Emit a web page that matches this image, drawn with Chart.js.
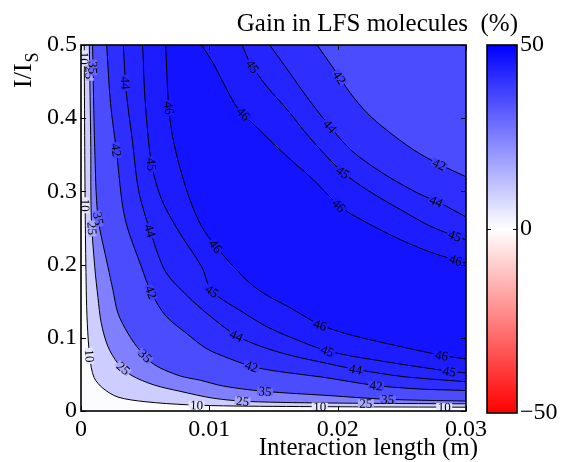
<!DOCTYPE html>
<html>
<head>
<meta charset="utf-8">
<script src="https://cdn.jsdelivr.net/npm/chart.js@4.4.1/dist/chart.umd.min.js"></script>
<style>
  body { margin: 0; background: #fff; }
  #wrap { position: relative; width: 563px; height: 462px; }
  #main { position: absolute; left: 0; top: 0; }
  #bar { position: absolute; left: 470px; top: 0; }
</style>
</head>
<body>
<div id="wrap">
  <canvas id="main" width="563" height="462"></canvas>
  <canvas id="bar" width="93" height="462"></canvas>
</div>
<script>
// contour lines, [interaction length (m), I/Is]
const c10 = [[0.00025,0.5],[0.00029,0.36],[0.00033,0.265],[0.00041,0.165],[0.00049,0.12],[0.00068,0.074],[0.00101,0.046],[0.00171,0.031],[0.00288,0.019],[0.005,0.0127],[0.0083,0.0085],[0.012,0.0068],[0.02,0.0058],[0.03,0.0052]];
const c25 = [[0.00065,0.5],[0.00076,0.36],[0.0008,0.265],[0.00107,0.197],[0.00132,0.155],[0.00158,0.12],[0.0021,0.088],[0.00288,0.065],[0.0039,0.049],[0.0057,0.0355],[0.0077,0.027],[0.0103,0.0175],[0.013,0.013],[0.02,0.0108],[0.03,0.0098]];
const c35 = [[0.0009,0.5],[0.00107,0.36],[0.00132,0.265],[0.0021,0.197],[0.00249,0.165],[0.00288,0.1335],[0.00366,0.106],[0.00457,0.083],[0.00574,0.063],[0.0077,0.048],[0.0093,0.042],[0.0111,0.034],[0.0142,0.027],[0.0194,0.021],[0.0238,0.016],[0.03,0.0135]];
const c42a = [[0.002,0.5],[0.0023,0.42],[0.00275,0.357],[0.0034,0.265],[0.0047,0.197],[0.0055,0.161],[0.0066,0.13],[0.0083,0.105],[0.0098,0.085],[0.0115,0.072],[0.0133,0.061],[0.015,0.055],[0.0189,0.046],[0.0229,0.035],[0.0264,0.03],[0.03,0.028]];
const c44a = [[0.0033,0.5],[0.0035,0.44],[0.004,0.37],[0.0045,0.3],[0.0055,0.24],[0.0066,0.19],[0.0083,0.157],[0.0099,0.132],[0.0121,0.103],[0.0139,0.089],[0.0161,0.077],[0.0189,0.066],[0.0214,0.057],[0.0251,0.047],[0.03,0.04]];
const c45a = [[0.0048,0.5],[0.005,0.423],[0.0055,0.337],[0.0063,0.288],[0.0077,0.243],[0.0094,0.197],[0.0102,0.164],[0.0127,0.134],[0.0145,0.115],[0.0163,0.101],[0.0192,0.082],[0.0235,0.068],[0.0288,0.054],[0.03,0.052]];
const c46a = [[0.0066,0.5],[0.0068,0.423],[0.0071,0.378],[0.0077,0.333],[0.0085,0.288],[0.0094,0.252],[0.0105,0.225],[0.0119,0.197],[0.0132,0.174],[0.0145,0.158],[0.0163,0.141],[0.0186,0.118],[0.021,0.104],[0.0249,0.088],[0.0281,0.076],[0.03,0.071]];
const c46b = [[0.0094,0.5],[0.0103,0.475],[0.0114,0.438],[0.0122,0.414],[0.0139,0.384],[0.0161,0.347],[0.0181,0.316],[0.0202,0.279],[0.0223,0.257],[0.0249,0.234],[0.0274,0.216],[0.03,0.202]];
const c45b = [[0.01255,0.5],[0.0132,0.475],[0.0145,0.443],[0.0161,0.411],[0.0178,0.374],[0.0202,0.329],[0.0223,0.302],[0.0249,0.275],[0.0274,0.251],[0.03,0.234]];
const c44b = [[0.0147,0.5],[0.0161,0.466],[0.0176,0.429],[0.0192,0.393],[0.021,0.357],[0.0235,0.325],[0.0262,0.298],[0.028,0.284],[0.03,0.265]];
const c42b = [[0.0184,0.5],[0.0196,0.47],[0.021,0.434],[0.0223,0.407],[0.0238,0.384],[0.0259,0.357],[0.0277,0.339],[0.03,0.32]];

// drawing order: each curve fills the side beyond it
const contours = [c10, c25, c35, c42a, c44a, c45a, c46a, c46b, c45b, c44b, c42b];
const contourLevels = [10, 25, 35, 42, 44, 45, 46, 46, 45, 44, 42];
const bandBeyond = [1, 2, 3, 4, 5, 6, 7, 6, 5, 4, 3];

// inline labels [level, x, y]
const labels = [
  [10,0.0002,0.482],[25,0.0004,0.462],[35,0.00084,0.469],[44,0.00336,0.448],[46,0.0069,0.414],
  [42,0.00266,0.356],[45,0.0055,0.337],[10,0.00028,0.281],[35,0.0014,0.263],[25,0.00064,0.249],
  [44,0.00554,0.247],[46,0.0105,0.225],[42,0.00526,0.161],[45,0.0102,0.1635],[46,0.0186,0.116],
  [44,0.0121,0.1025],[10,0.00076,0.0754],[35,0.005,0.0754],[25,0.0032,0.0565],[42,0.0133,0.0619],
  [45,0.0192,0.082],[44,0.0214,0.0574],[46,0.0281,0.0754],[45,0.0287,0.0538],[42,0.023,0.0348],
  [35,0.01435,0.028],[25,0.0126,0.0145],[10,0.009,0.0068],[10,0.0186,0.0054],[25,0.0222,0.0113],
  [35,0.0239,0.0167],[10,0.0283,0.0054],
  [45,0.0134,0.471],[42,0.0201,0.455],[46,0.0126,0.405],[44,0.0194,0.389],[42,0.0279,0.3365],
  [45,0.0204,0.326],[46,0.02,0.279],[44,0.0276,0.283],[45,0.0291,0.238],[46,0.0291,0.201]
];

const xTicks = [0, 0.01, 0.02, 0.03];
const yTicks = [0, 0.1, 0.2, 0.3, 0.4, 0.5];
const barTicks = [-50, 0, 50];

// band colours: <10, 10-25, 25-35, 35-42, 42-44, 44-45, 45-46, >46
const bandColors = [[252,252,255],[205,205,255],[128,128,255],[76,76,255],[46,46,255],[36,36,255],[28,28,255],[19,19,255]];
const rgb = c => `rgb(${c[0]},${c[1]},${c[2]})`;
const serif = "'Liberation Serif', 'DejaVu Serif', serif";

const datasets = contours.map((c, i) => ({
  data: c.map(p => ({x: p[0], y: p[1]})),
  showLine: true,
  pointRadius: 0,
  borderColor: '#000',
  borderWidth: 1,
  tension: 0.3,
  fill: 'end',
  backgroundColor: rgb(bandColors[bandBeyond[i]]),
  order: contours.length - i
}));

const decor = {
  id: 'decor',
  beforeDraw(chart) {
    const {ctx, chartArea: a} = chart;
    ctx.save();
    ctx.fillStyle = rgb(bandColors[0]);
    ctx.fillRect(a.left, a.top, a.right - a.left, a.bottom - a.top);
    ctx.restore();
  },
  afterDatasetsDraw(chart) {
    const {ctx, chartArea: a} = chart;
    const xs = chart.scales.x, ys = chart.scales.y;
    ctx.save();
    ctx.beginPath();
    ctx.rect(a.left, a.top, a.right - a.left, a.bottom - a.top);
    ctx.clip();
    ctx.font = '13px ' + serif;
    ctx.textAlign = 'center';
    ctx.textBaseline = 'middle';
    labels.forEach(([lvl, x, y]) => {
      const px = xs.getPixelForValue(x), py = ys.getPixelForValue(y);
      // snap to nearest segment of a contour with that level
      let best = null;
      contours.forEach((c, ci) => {
        if (contourLevels[ci] !== lvl) return;
        for (let k = 0; k < c.length - 1; k++) {
          const x1 = xs.getPixelForValue(c[k][0]), y1 = ys.getPixelForValue(c[k][1]);
          const x2 = xs.getPixelForValue(c[k+1][0]), y2 = ys.getPixelForValue(c[k+1][1]);
          const dx = x2 - x1, dy = y2 - y1;
          let t = ((px - x1) * dx + (py - y1) * dy) / (dx * dx + dy * dy);
          t = Math.max(0, Math.min(1, t));
          const qx = x1 + t * dx, qy = y1 + t * dy;
          const d = (qx - px) ** 2 + (qy - py) ** 2;
          if (!best || d < best.d) best = {d, qx, qy, ang: Math.atan2(dy, dx)};
        }
      });
      let ang = best.ang;
      if (ang > Math.PI / 2) ang -= Math.PI;
      if (ang < -Math.PI / 2) ang += Math.PI;
      const li = [10, 25, 35, 42, 44, 45, 46].indexOf(lvl) + 1;
      const lo = bandColors[li - 1], hi = bandColors[li];
      const mix = [0, 1, 2].map(j => Math.round((lo[j] + hi[j]) / 2));
      const txt = String(lvl);
      const w = ctx.measureText(txt).width + 3;
      ctx.save();
      ctx.translate(best.qx, best.qy);
      ctx.rotate(ang);
      ctx.fillStyle = rgb(mix);
      ctx.fillRect(-w / 2, -4, w, 8);
      ctx.fillStyle = '#000';
      ctx.fillText(txt, 0, 1);
      ctx.restore();
    });
    ctx.restore();
  },
  afterDraw(chart) {
    const {ctx, chartArea: a} = chart;
    const xs = chart.scales.x, ys = chart.scales.y;
    ctx.save();
    ctx.strokeStyle = '#000';
    ctx.lineWidth = 1;
    ctx.beginPath();
    xTicks.forEach(v => {
      const p = Math.round(xs.getPixelForValue(v)) + 0.5;
      ctx.moveTo(p, a.bottom); ctx.lineTo(p, a.bottom - 5);
      ctx.moveTo(p, a.top); ctx.lineTo(p, a.top + 5);
    });
    yTicks.forEach(v => {
      const p = Math.round(ys.getPixelForValue(v)) + 0.5;
      ctx.moveTo(a.left, p); ctx.lineTo(a.left + 5, p);
      ctx.moveTo(a.right, p); ctx.lineTo(a.right - 5, p);
    });
    ctx.stroke();
    ctx.lineWidth = 1.6;
    ctx.strokeRect(a.left, a.top, a.right - a.left, a.bottom - a.top);

    ctx.fillStyle = '#000';
    ctx.textBaseline = 'alphabetic';
    ctx.textAlign = 'right';
    ctx.font = '25px ' + serif;
    ctx.fillText('Gain in LFS molecules  (%)', 518, 31);
    ctx.fillText('Interaction length (m)', 478, 455);

    // y label I/I_S, rotated
    ctx.translate(31, 88);
    ctx.rotate(-Math.PI / 2);
    ctx.textAlign = 'left';
    ctx.font = '26px ' + serif;
    ctx.fillText('I/I', 0, 0);
    const w = ctx.measureText('I/I').width;
    ctx.font = '18px ' + serif;
    ctx.fillText('S', w + 1, 7);
    ctx.restore();
  }
};

new Chart(document.getElementById('main'), {
  type: 'scatter',
  data: {datasets},
  options: {
    responsive: false,
    animation: false,
    layout: {padding: {top: 45, right: 97, left: 0, bottom: 0}},
    plugins: {legend: {display: false}, tooltip: {enabled: false}},
    scales: {
      x: {
        type: 'linear', min: 0, max: 0.03,
        grid: {display: false, drawTicks: false}, border: {display: false},
        afterBuildTicks: s => { s.ticks = xTicks.map(v => ({value: v})); },
        afterFit: s => { s.height = 51; },
        ticks: {
          color: '#000', padding: 4, maxRotation: 0,
          font: {family: serif, size: 24},
          callback: v => v === 0 ? '0' : v.toFixed(2)
        }
      },
      y: {
        type: 'linear', min: 0, max: 0.5,
        grid: {display: false, drawTicks: false}, border: {display: false},
        afterBuildTicks: s => { s.ticks = yTicks.map(v => ({value: v})); },
        afterFit: s => { s.width = 81; },
        ticks: {
          color: '#000', padding: 4,
          font: {family: serif, size: 24},
          callback: v => v === 0 ? '0' : v.toFixed(1)
        }
      }
    }
  },
  plugins: [decor]
});

// colour bar
const barFrame = {
  id: 'barFrame',
  afterDraw(chart) {
    const {ctx, chartArea: a} = chart;
    const p = Math.round(chart.scales.y.getPixelForValue(0)) + 0.5;
    ctx.save();
    ctx.strokeStyle = '#000';
    ctx.lineWidth = 1;
    ctx.beginPath();
    ctx.moveTo(a.left, p); ctx.lineTo(a.left + 4, p);
    ctx.moveTo(a.right, p); ctx.lineTo(a.right - 4, p);
    ctx.stroke();
    ctx.lineWidth = 1.6;
    ctx.strokeRect(a.left, a.top, a.right - a.left, a.bottom - a.top);
    ctx.restore();
  }
};

new Chart(document.getElementById('bar'), {
  type: 'bar',
  data: {
    labels: [''],
    datasets: [{
      data: [[-50, 50]],
      borderWidth: 0,
      barPercentage: 1,
      categoryPercentage: 1,
      backgroundColor: c => {
        const a = c.chart.chartArea;
        if (!a) return 'rgba(0,0,0,0)';
        const g = c.chart.ctx.createLinearGradient(0, a.bottom, 0, a.top);
        g.addColorStop(0, 'rgb(255,0,0)');
        g.addColorStop(0.5, 'rgb(255,255,255)');
        g.addColorStop(1, 'rgb(0,0,255)');
        return g;
      }
    }]
  },
  options: {
    responsive: false,
    animation: false,
    layout: {padding: {left: 17, top: 45, bottom: 49, right: 0}},
    plugins: {legend: {display: false}, tooltip: {enabled: false}},
    scales: {
      x: {display: false},
      y: {
        position: 'right', min: -50, max: 50,
        grid: {display: false, drawTicks: false}, border: {display: false},
        afterBuildTicks: s => { s.ticks = barTicks.map(v => ({value: v})); },
        afterFit: s => { s.width = 46; },
        ticks: {
          color: '#000', padding: 3,
          font: {family: serif, size: 24},
          callback: v => v < 0 ? '\u2212' + Math.abs(v) : String(v)
        }
      }
    }
  },
  plugins: [barFrame]
});
</script>
</body>
</html>
